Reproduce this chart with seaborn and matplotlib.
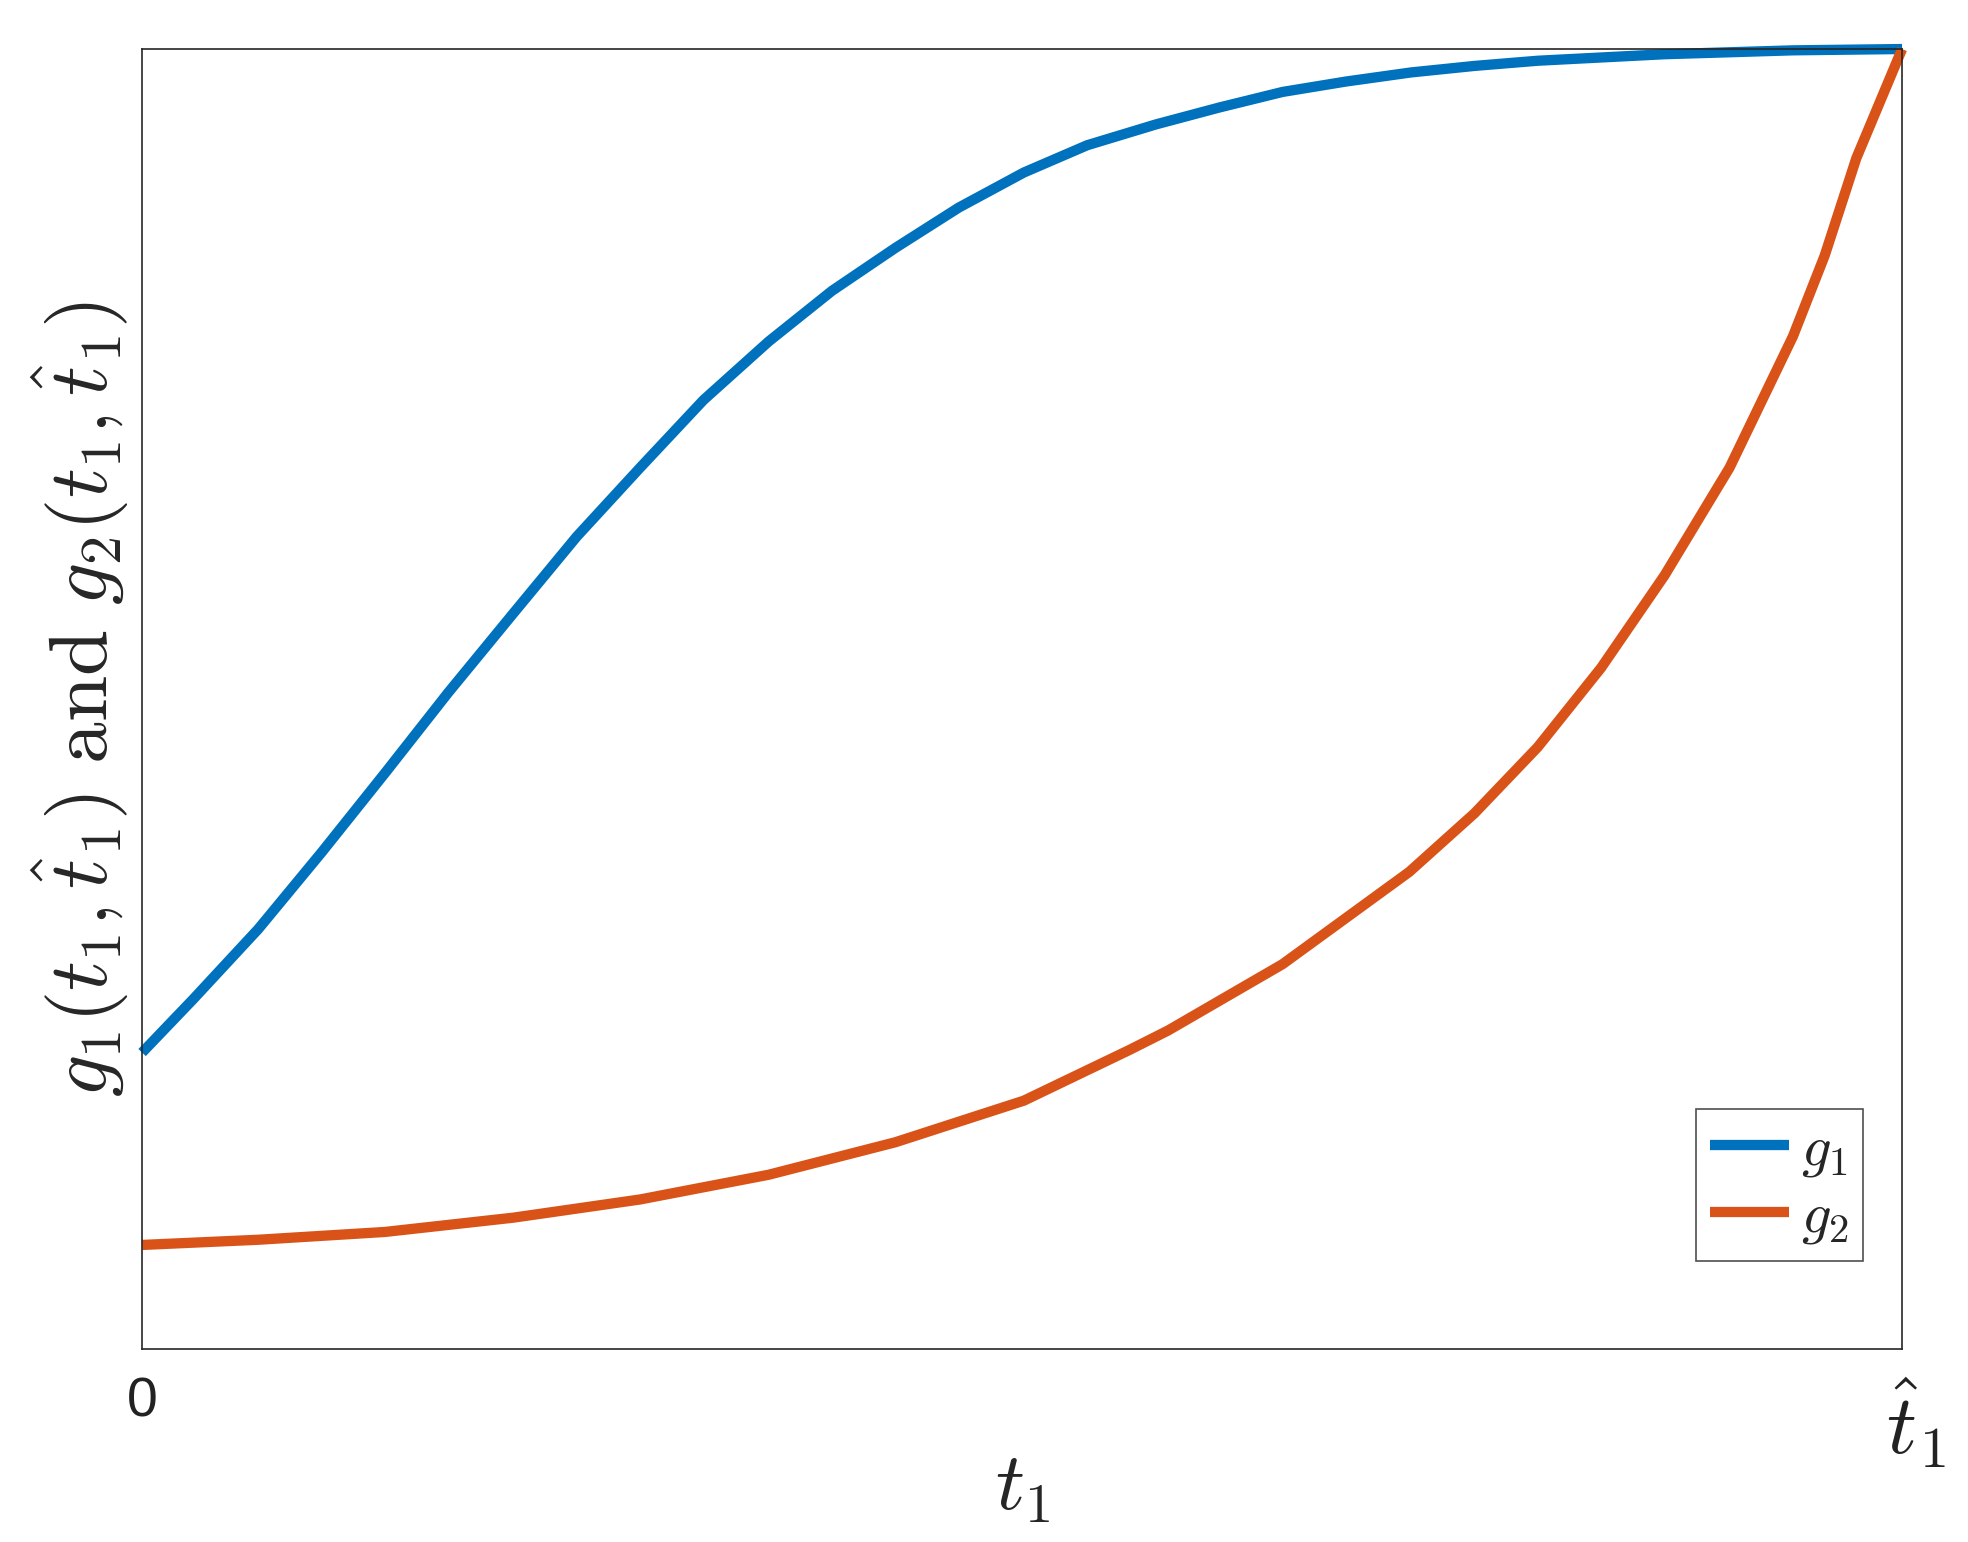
import matplotlib
matplotlib.use("Agg")
import matplotlib.pyplot as plt
import matplotlib.transforms as mtransforms
import seaborn as sns
import pandas as pd

# values (t normalised to [0, 1], g to [0, 1])
t_g1 = [0.0, 0.029, 0.066, 0.102, 0.138, 0.174, 0.211, 0.247, 0.283, 0.319,
        0.356, 0.392, 0.428, 0.464, 0.501, 0.537, 0.576, 0.612, 0.648, 0.684,
        0.721, 0.757, 0.793, 0.865, 0.938, 1.0]
g1 = [0.228, 0.269, 0.323, 0.382, 0.443, 0.505, 0.566, 0.625, 0.678, 0.730,
      0.775, 0.814, 0.847, 0.878, 0.905, 0.926, 0.942, 0.955, 0.967, 0.975,
      0.982, 0.987, 0.991, 0.996, 0.999, 1.0]

t_g2 = [0.0, 0.066, 0.138, 0.211, 0.283, 0.356, 0.428, 0.501, 0.561, 0.583,
        0.648, 0.720, 0.757, 0.793, 0.829, 0.865, 0.902, 0.938, 0.956, 0.974,
        1.0]
g2 = [0.080, 0.084, 0.090, 0.101, 0.115, 0.134, 0.159, 0.191, 0.230, 0.245,
      0.296, 0.367, 0.412, 0.463, 0.524, 0.595, 0.678, 0.779, 0.841, 0.916,
      1.0]

series_names = [r'$g_1$', r'$g_2$']
series_colors = ['#0072BD', '#D95319']
x_tick_labels = ['0', r'$\hat{t}_1$']

sns.set_style('white')
plt.rcParams['mathtext.fontset'] = 'cm'
plt.rcParams['font.family'] = ['Liberation Sans', 'DejaVu Sans']

df = pd.concat([
    pd.DataFrame({'t': t_g1, 'g': g1, 'curve': series_names[0]}),
    pd.DataFrame({'t': t_g2, 'g': g2, 'curve': series_names[1]}),
], ignore_index=True)

fig, ax = plt.subplots(figsize=(9.84, 7.71), dpi=200)
fig.subplots_adjust(left=0.0722, right=0.9665, top=0.9682, bottom=0.1252)

sns.lineplot(data=df, x='t', y='g', hue='curve', ax=ax,
             palette=dict(zip(series_names, series_colors)),
             linewidth=3.7, sort=False, estimator=None)
for line in ax.lines:
    line.set_clip_on(False)
    line.set_solid_capstyle('butt')
    line.set_solid_joinstyle('round')

ax.set_xlim(0, 1)
ax.set_ylim(0, 1)
ax.set_xticks([0, 1])
ax.set_xticklabels(x_tick_labels)
ax.set_yticks([])
ax.tick_params(axis='x', length=0, pad=10, labelsize=20, colors='#222222')
hat_lbl = ax.get_xticklabels()[1]
hat_lbl.set_fontsize(30)
hat_lbl.set_transform(hat_lbl.get_transform() +
                      mtransforms.ScaledTranslation(5 / 72, 0, fig.dpi_scale_trans))

for sp in ax.spines.values():
    sp.set_color('#262626')
    sp.set_linewidth(0.6)

ax.set_xlabel(r'$t_1$', fontsize=29)
ax.xaxis.set_label_coords(0.5, -0.078)
ax.set_ylabel(r'$g_1(t_1,\hat{t}_1)\ \mathrm{and}\ g_2(t_1,\hat{t}_1)$',
              fontsize=30, labelpad=4)

leg = ax.legend(loc='lower right', bbox_to_anchor=(0.978, 0.068),
                fontsize=21, frameon=True, fancybox=False,
                handlelength=1.35, handletextpad=0.2, borderpad=0.25,
                labelspacing=0.2, borderaxespad=0, title=None)
leg.get_frame().set_edgecolor('#222222')
leg.get_frame().set_linewidth(0.6)
for h in leg.get_lines():
    h.set_linewidth(3.7)

fig.savefig('out.png', dpi=200)
